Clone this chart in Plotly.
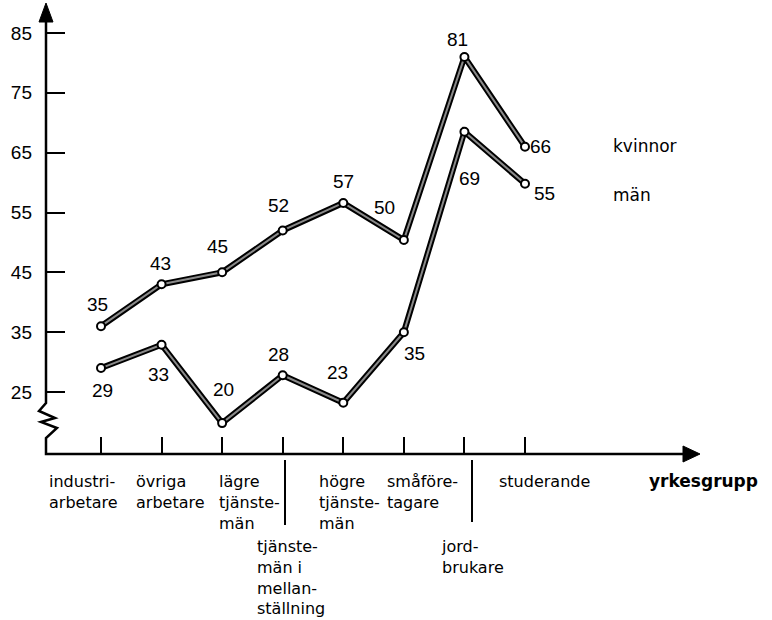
import plotly.graph_objects as go

# yrkesgrupper (x categories) and their printed labels
yrkesgrupper = ["industriarbetare", "övriga arbetare", "lägre tjänstemän",
                "tjänstemän i mellanställning", "högre tjänstemän",
                "småföretagare", "jordbrukare", "studerande"]
etiketter = ["industri-<br>arbetare", "övriga<br>arbetare", "lägre<br>tjänste-<br>män",
             "tjänste-<br>män i<br>mellan-<br>ställning", "högre<br>tjänste-<br>män",
             "småföre-<br>tagare", "jord-<br>brukare", "studerande"]

# values as drawn in the figure, and the numbers printed next to the points
kvinnor = [36, 43, 45, 52, 56.6, 50.4, 81, 66]
man = [29, 32.9, 19.8, 27.8, 23.2, 35, 68.5, 59.8]
kvinnor_text = ["35", "43", "45", "52", "57", "50", "81", "66"]
man_text = ["29", "33", "20", "28", "23", "35", "69", "55"]

y_ticks = [25, 35, 45, 55, 65, 75, 85]

# label offsets in px (dx, dy) relative to each point
kv_off = [(-4, -22), (-1, -21), (-5, -26), (-4, -25), (0, -21), (-19, -33), (-7, -17), (15, 0)]
man_off = [(1, 22), (-3, 30), (1, -34), (-4, -21), (-6, -30), (11, 21), (5, 47), (19, 10)]
# category label left offset (px from tick) and top (px)
cat_dx = [-54, -28, -5, -28, -26, -19, -25, -28]
cat_top = [470, 470, 470, 535, 470, 470, 535, 470]

# plot area in pixels
PL, PR, PT, PB = 46, 699, 5, 454
W, H = 772, 620


def px(x):
    return (x - PL) / (PR - PL)


def py(y):
    return (PB - y) / (PB - PT)


NUM_FONT = dict(family="Liberation Sans, Arial, sans-serif", size=19, color="black")
TXT_FONT = dict(family="DejaVu Sans, sans-serif", size=16, color="black")

fig = go.Figure()

for vals in (kvinnor, man):
    fig.add_trace(go.Scatter(x=yrkesgrupper, y=vals, mode="lines",
                             line=dict(color="black", width=6), hoverinfo="skip"))
    fig.add_trace(go.Scatter(x=yrkesgrupper, y=vals, mode="lines+markers",
                             line=dict(color="#8a8a8a", width=2),
                             marker=dict(size=8, color="white",
                                         line=dict(color="black", width=2))))

annotations = []
for vals, texts, offs in ((kvinnor, kvinnor_text, kv_off), (man, man_text, man_off)):
    for cat, v, t, (dx, dy) in zip(yrkesgrupper, vals, texts, offs):
        annotations.append(dict(x=cat, y=v, xref="x", yref="y", text=t,
                                showarrow=False, xshift=dx, yshift=-dy,
                                xanchor="center", yanchor="middle", font=NUM_FONT))

for cat, lab, dx, top in zip(yrkesgrupper, etiketter, cat_dx, cat_top):
    annotations.append(dict(x=cat, y=py(top), xref="x", yref="paper", text=lab,
                            showarrow=False, xshift=dx, xanchor="left", yanchor="top",
                            align="left", font=TXT_FONT))

annotations += [
    dict(x=px(647), y=py(481), xref="paper", yref="paper", text="<b>yrkesgrupp</b>",
         showarrow=False, xanchor="left", yanchor="middle",
         font=dict(family="DejaVu Sans, sans-serif", size=17, color="black")),
    dict(x=px(611), y=py(146), xref="paper", yref="paper", text="kvinnor",
         showarrow=False, xanchor="left", yanchor="middle",
         font=dict(family="DejaVu Sans, sans-serif", size=17, color="black")),
    dict(x=px(611), y=py(195), xref="paper", yref="paper", text="män",
         showarrow=False, xanchor="left", yanchor="middle",
         font=dict(family="DejaVu Sans, sans-serif", size=17, color="black")),
]

# axes with broken y axis, arrowheads and separators
zig = [(46, 20), (46, 403), (39, 411), (55, 418), (41, 422), (57, 428),
       (46, 438), (46, 454), (690, 454)]
axis_path = "M " + " L ".join(f"{px(a):.4f},{py(b):.4f}" for a, b in zig)
shapes = [
    dict(type="path", xref="paper", yref="paper", path=axis_path,
         line=dict(color="black", width=2.5)),
    dict(type="path", xref="paper", yref="paper",
         path=f"M {px(46)},{py(3)} L {px(39)},{py(22)} L {px(53)},{py(22)} Z",
         fillcolor="black", line=dict(color="black", width=1)),
    dict(type="path", xref="paper", yref="paper",
         path=f"M {px(700)},{py(454)} L {px(683)},{py(446)} L {px(683)},{py(462)} Z",
         fillcolor="black", line=dict(color="black", width=1)),
    dict(type="line", xref="paper", yref="paper", x0=px(285), x1=px(285),
         y0=py(460), y1=py(525), line=dict(color="black", width=2)),
    dict(type="line", xref="paper", yref="paper", x0=px(472), x1=px(472),
         y0=py(460), y1=py(522), line=dict(color="black", width=2)),
]

x_lo = -(101 - PL) / 60.571
x_hi = (PR - 101) / 60.571
y_lo = 25 - (PB - 392) / 5.9833
y_hi = 85 + (33 - PT) / 5.9833

fig.update_layout(
    width=W, height=H,
    margin=dict(l=PL, r=W - PR, t=PT, b=H - PB, pad=0),
    paper_bgcolor="white", plot_bgcolor="white",
    showlegend=False,
    xaxis=dict(type="category", range=[x_lo, x_hi], showgrid=False, zeroline=False,
               showline=False, ticks="inside", ticklen=17, tickwidth=2,
               tickcolor="black", showticklabels=False),
    yaxis=dict(range=[y_lo, y_hi], showgrid=False, zeroline=False, showline=False,
               tickvals=y_ticks, ticks="inside", ticklen=19, tickwidth=2,
               tickcolor="black", ticklabelstandoff=13, tickfont=NUM_FONT),
    annotations=annotations,
    shapes=shapes,
)

# the page body has a default margin; drop it so the figure sits at the corner
fig.write_html("out.html", config={"displayModeBar": False},
               post_script="document.body.style.margin='0';")
